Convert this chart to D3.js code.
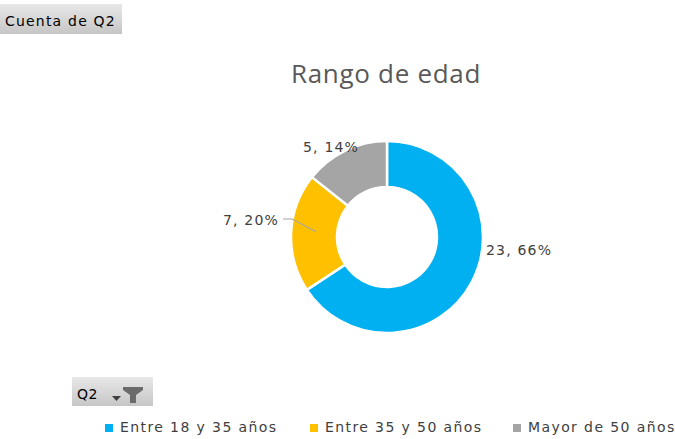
<!DOCTYPE html>
<html>
<head>
<meta charset="utf-8">
<script src="https://cdn.jsdelivr.net/npm/d3@7"></script>
<style>
  body { margin: 0; background: #fff; overflow: hidden; }
</style>
</head>
<body>
<div id="chart"></div>
<script>
// Data
const categories = ["Entre 18 y 35 años", "Entre 35 y 50 años", "Mayor de 50 años"];
const counts = [23, 7, 5];
const colors = ["#00b0f0", "#ffc000", "#a5a5a5"];

const width = 675;
const height = 439;

const svg = d3.select("#chart")
    .append("svg")
    .attr("width", width)
    .attr("height", height);

const defs = svg.append("defs");
const grad = defs.append("linearGradient")
    .attr("id", "btn")
    .attr("x1", 0).attr("y1", 0).attr("x2", 0).attr("y2", 1);
grad.append("stop").attr("offset", "0%").attr("stop-color", "#e8e8e8");
grad.append("stop").attr("offset", "100%").attr("stop-color", "#c6c6c6");

// "Cuenta de Q2" field button
svg.append("rect")
    .attr("x", 0).attr("y", 4).attr("width", 122).attr("height", 30)
    .attr("fill", "url(#btn)");
svg.append("text")
    .attr("x", 5).attr("y", 26)
    .attr("font-family", "DejaVu Sans")
    .attr("font-size", 14)
    .attr("letter-spacing", 1.2)
    .attr("fill", "#000")
    .text("Cuenta de Q2");

// Title
svg.append("text")
    .attr("x", 386).attr("y", 83)
    .attr("text-anchor", "middle")
    .attr("font-family", "Open Sans")
    .attr("font-size", 26)
    .attr("letter-spacing", 0.7)
    .attr("fill", "#595959")
    .text("Rango de edad");

// Donut
const cx = 387, cy = 237;
const outerR = 96, innerR = 50;
const total = d3.sum(counts);

const pie = d3.pie().sort(null).value(d => d);
const arcs = pie(counts);
const arc = d3.arc().innerRadius(innerR).outerRadius(outerR);

const g = svg.append("g").attr("transform", `translate(${cx},${cy})`);

g.selectAll("path")
    .data(arcs)
    .enter()
    .append("path")
    .attr("d", arc)
    .attr("fill", (d, i) => colors[i])
    .attr("stroke", "#fff")
    .attr("stroke-width", 2.5);

// Data labels
const pct = d3.format(".0%");
const labelPos = [
    { x: 99, y: 18, anchor: "start" },
    { x: -108, y: -12, anchor: "end" },
    { x: -84, y: -85, anchor: "start" }
];

g.selectAll(".lbl")
    .data(arcs)
    .enter()
    .append("text")
    .attr("class", "lbl")
    .attr("x", (d, i) => labelPos[i].x)
    .attr("y", (d, i) => labelPos[i].y)
    .attr("text-anchor", (d, i) => labelPos[i].anchor)
    .attr("font-family", "DejaVu Sans")
    .attr("font-size", 14)
    .attr("letter-spacing", 1.2)
    .attr("fill", "#404040")
    .text(d => `${d.data}, ${pct(d.data / total)}`);

// Leader line for the yellow slice
const yc = arc.centroid(arcs[1]);
g.append("polyline")
    .attr("points", `${-104},${-18} ${-95},${-18} ${yc[0] + 2},${yc[1] - 2}`)
    .attr("fill", "none")
    .attr("stroke", "#a6a6a6")
    .attr("stroke-width", 1.2);

// "Q2" filter button
svg.append("rect")
    .attr("x", 72).attr("y", 377).attr("width", 81).attr("height", 29)
    .attr("fill", "url(#btn)");
svg.append("text")
    .attr("x", 77).attr("y", 399)
    .attr("font-family", "DejaVu Sans")
    .attr("font-size", 14)
    .attr("letter-spacing", 0.5)
    .attr("fill", "#000")
    .text("Q2");
// dropdown arrow
svg.append("path")
    .attr("d", "M112,396 L121,396 L116.5,401 Z")
    .attr("fill", "#404040");
// funnel icon
svg.append("path")
    .attr("d", "M123,387 L143,387 L143,390 L136,395 L136,403 L130,403 L130,395 L123,390 Z")
    .attr("fill", "#6b6b6b");

// Legend
const legendX = [105, 310, 513];
const legend = svg.selectAll(".leg")
    .data(categories)
    .enter()
    .append("g")
    .attr("class", "leg")
    .attr("transform", (d, i) => `translate(${legendX[i]},432)`);

legend.append("rect")
    .attr("x", 0).attr("y", -8)
    .attr("width", 8).attr("height", 8)
    .attr("fill", (d, i) => colors[i]);

legend.append("text")
    .attr("x", 15).attr("y", 0)
    .attr("font-family", "DejaVu Sans")
    .attr("font-size", 14)
    .attr("letter-spacing", 1.4)
    .attr("fill", "#404040")
    .text(d => d);
</script>
</body>
</html>
